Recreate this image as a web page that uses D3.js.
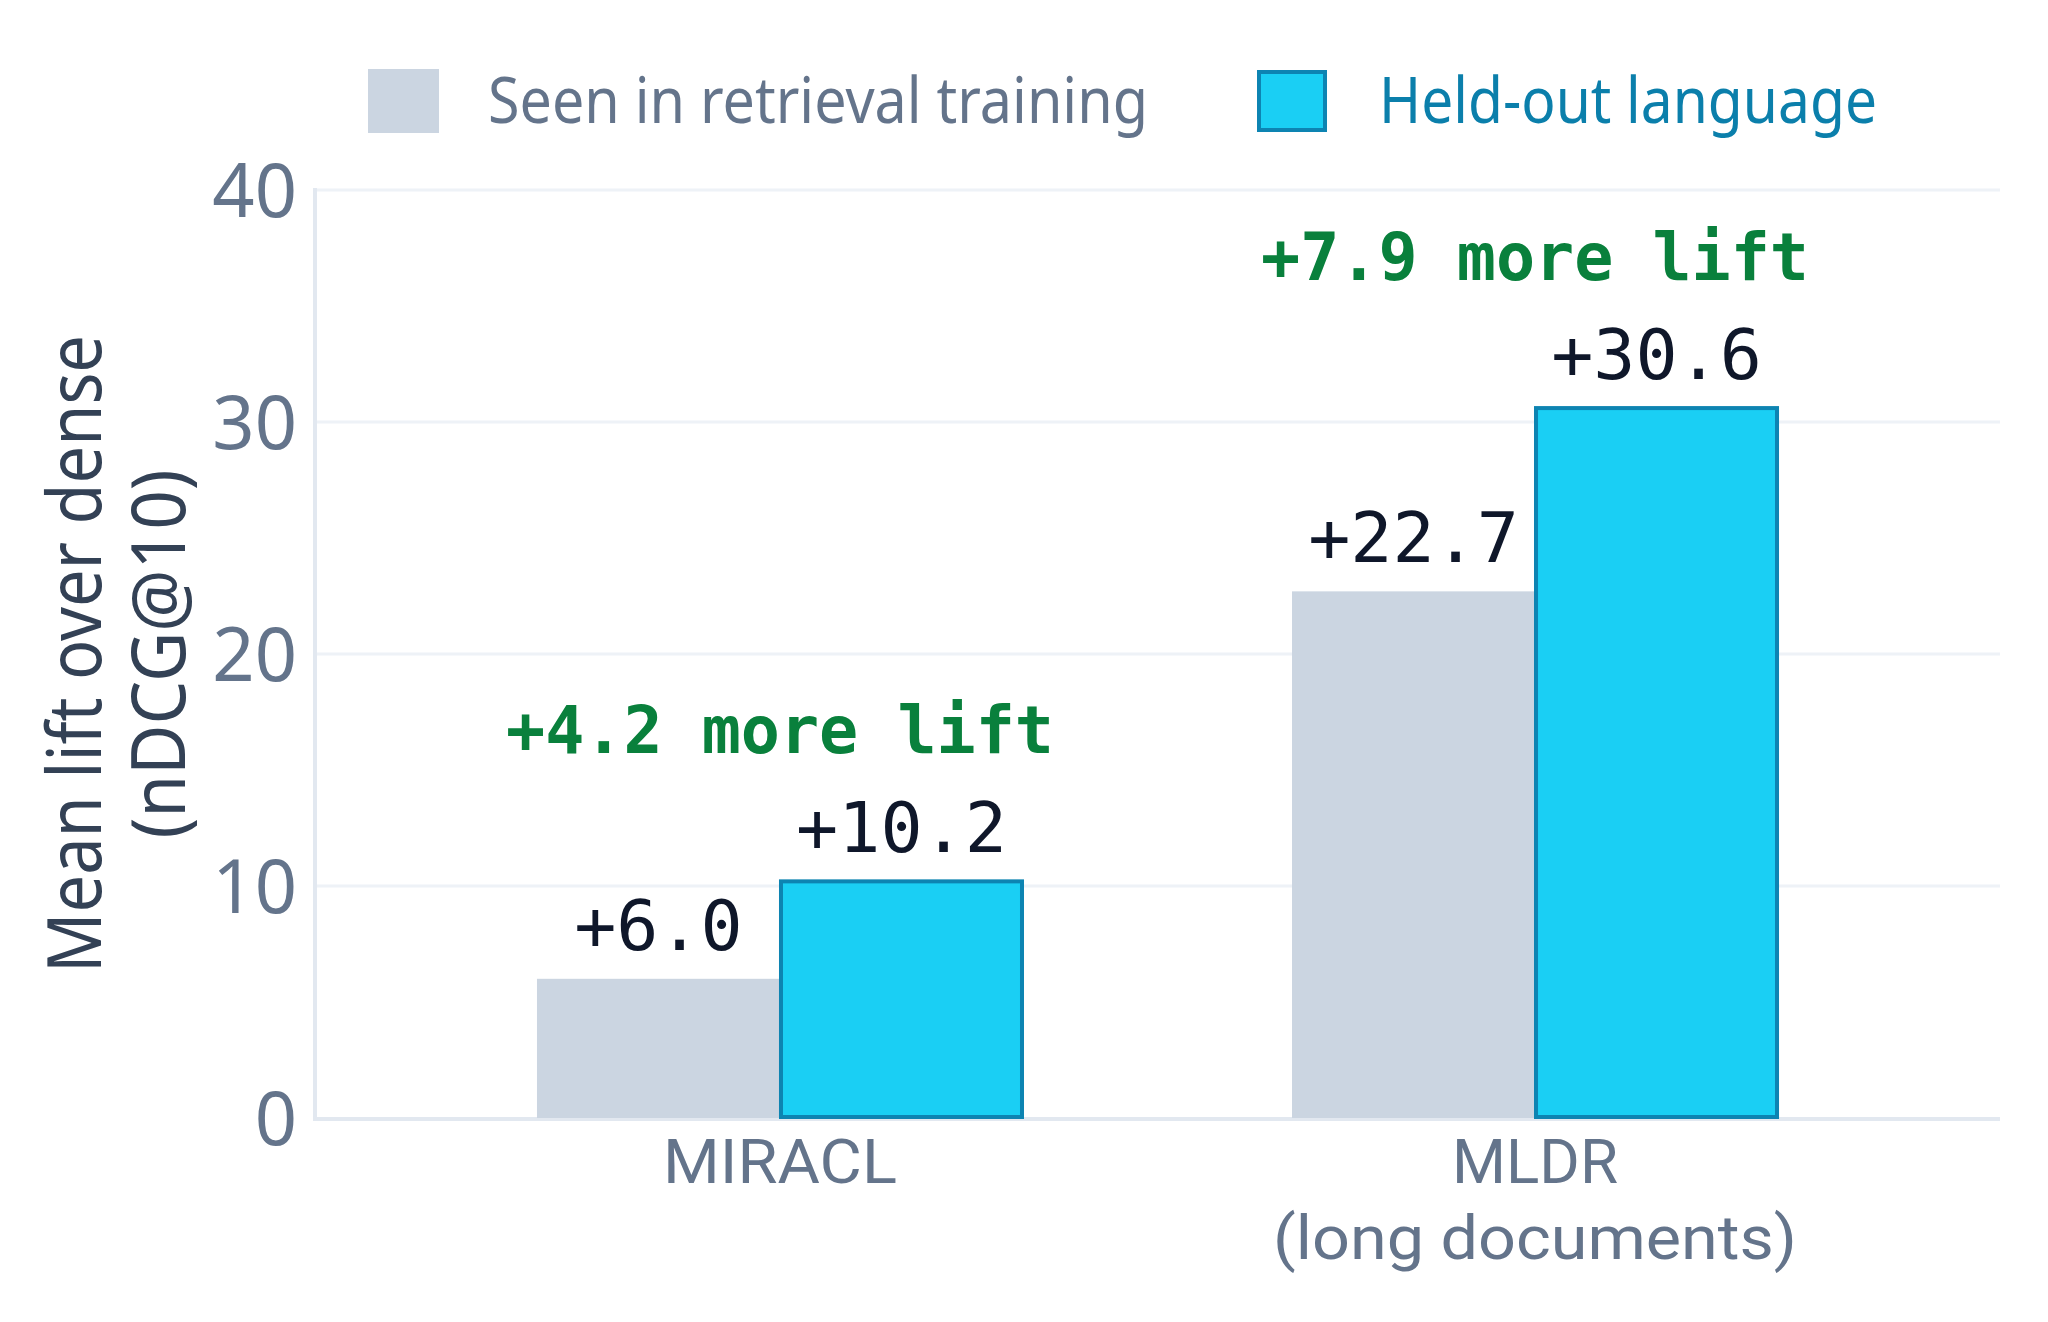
<!DOCTYPE html>
<html>
<head>
<meta charset="utf-8">
<script src="https://cdn.jsdelivr.net/npm/d3@7"></script>
<style>
  html, body { margin: 0; padding: 0; background: #ffffff; }
  svg { display: block; }
</style>
</head>
<body>
<svg id="chart" width="2048" height="1322"></svg>
<script>
// ---- data ----
const categories = ["MIRACL", "MLDR"];
const categoryLines = [["MIRACL"], ["MLDR", "(long documents)"]];
const seriesNames = ["Seen in retrieval training", "Held-out language"];
const seenValues = [6.0, 22.7];
const heldOutValues = [10.2, 30.6];
const liftLabels = ["+4.2 more lift", "+7.9 more lift"];
const yTicks = [0, 10, 20, 30, 40];
const yTitleLines = ["Mean lift over dense", "(nDCG@10)"];

// ---- styles ----
const SANS = "'Noto Sans', 'Open Sans', sans-serif";
const XSANS = "Roboto, 'Noto Sans', sans-serif";
const MONO = "'DejaVu Sans Mono', 'Liberation Mono', monospace";
const colors = {
  seen: "#cbd5e1",
  held: "#1acff4",
  heldStroke: "#0d84b2",
  tick: "#64748b",
  heldText: "#0b7fab",
  title: "#334155",
  value: "#0f172a",
  lift: "#09803c",
  grid: "#eef2f7",
  axis: "#e2e8f0"
};

const svg = d3.select("#chart");
const plotLeft = 315, plotRight = 2000, plotTop = 190, plotBottom = 1118;

const y = d3.scaleLinear().domain([0, 40]).range([plotBottom, plotTop]);
const x0 = d3.scaleBand().domain(categories).range([plotLeft, plotRight])
  .paddingInner(0.3563).paddingOuter(0.294);
const x1 = d3.scaleBand().domain(seriesNames).range([0, x0.bandwidth()]);

// gridlines
svg.append("g").selectAll("line").data(yTicks.filter(t => t > 0)).join("line")
  .attr("x1", plotLeft).attr("x2", plotRight)
  .attr("y1", d => y(d)).attr("y2", d => y(d))
  .attr("stroke", colors.grid).attr("stroke-width", 3);

// axes lines
svg.append("line").attr("x1", plotLeft).attr("x2", plotLeft)
  .attr("y1", plotTop - 2).attr("y2", plotBottom + 3)
  .attr("stroke", colors.axis).attr("stroke-width", 4);
svg.append("line").attr("x1", plotLeft - 2).attr("x2", plotRight)
  .attr("y1", plotBottom + 1).attr("y2", plotBottom + 1)
  .attr("stroke", colors.axis).attr("stroke-width", 4);

// y tick labels
svg.append("g").selectAll("text").data(yTicks).join("text")
  .attr("x", plotLeft - 18).attr("y", d => y(d) + 27)
  .attr("text-anchor", "end")
  .attr("font-family", SANS).attr("font-size", 74)
  .attr("fill", colors.tick)
  .text(d => d);

// y title
const yTitle = svg.append("g").attr("transform", "translate(0,654) rotate(-90)");
const yTitleLens = [638, 369];
yTitle.selectAll("text").data(yTitleLines).join("text")
  .attr("x", 0).attr("y", (d, i) => i === 0 ? 101 : 185)
  .attr("text-anchor", "middle")
  .attr("font-family", SANS).attr("font-size", 74)
  .attr("fill", colors.title)
  .attr("textLength", (d, i) => yTitleLens[i])
  .attr("lengthAdjust", "spacingAndGlyphs")
  .text(d => d);

// bars
const groups = svg.append("g").selectAll("g").data(categories).join("g")
  .attr("transform", d => `translate(${x0(d)},0)`);

groups.append("rect")
  .attr("x", x1(seriesNames[0]))
  .attr("width", x1.bandwidth())
  .attr("y", (d, i) => y(seenValues[i]))
  .attr("height", (d, i) => y(0) - y(seenValues[i]))
  .attr("fill", colors.seen);

groups.append("rect")
  .attr("x", x1(seriesNames[1]) + 1)
  .attr("width", x1.bandwidth() - 2)
  .attr("y", (d, i) => y(heldOutValues[i]))
  .attr("height", (d, i) => y(0) - y(heldOutValues[i]) - 1)
  .attr("fill", colors.held)
  .attr("stroke", colors.heldStroke)
  .attr("stroke-width", 4);

// value labels
groups.append("text")
  .attr("x", x1(seriesNames[0]) + x1.bandwidth() / 2)
  .attr("y", (d, i) => y(seenValues[i]) - 29)
  .attr("text-anchor", "middle")
  .attr("font-family", MONO).attr("font-size", 70)
  .attr("fill", colors.value)
  .text((d, i) => "+" + seenValues[i].toFixed(1));

groups.append("text")
  .attr("x", x1(seriesNames[1]) + x1.bandwidth() / 2)
  .attr("y", (d, i) => y(heldOutValues[i]) - 29)
  .attr("text-anchor", "middle")
  .attr("font-family", MONO).attr("font-size", 70)
  .attr("fill", colors.value)
  .text((d, i) => "+" + heldOutValues[i].toFixed(1));

// lift annotations
groups.append("text")
  .attr("x", x0.bandwidth() / 2)
  .attr("y", (d, i) => y(Math.max(seenValues[i], heldOutValues[i])) - 128)
  .attr("text-anchor", "middle")
  .attr("font-family", MONO).attr("font-size", 65).attr("font-weight", "bold")
  .attr("fill", colors.lift)
  .text((d, i) => liftLabels[i]);

// x labels
const xLabelLens = { "MIRACL": 234, "MLDR": 166, "(long documents)": 524 };
groups.each(function(d, i) {
  d3.select(this).selectAll("text.xl").data(categoryLines[i]).join("text")
    .attr("class", "xl")
    .attr("x", x0.bandwidth() / 2)
    .attr("y", (t, j) => 1183 + j * 76)
    .attr("text-anchor", "middle")
    .attr("font-family", XSANS).attr("font-size", 62)
    .attr("fill", colors.tick)
    .attr("textLength", t => xLabelLens[t])
    .attr("lengthAdjust", "spacingAndGlyphs")
    .text(t => t);
});

// legend
const legend = svg.append("g");
legend.append("rect").attr("x", 368).attr("y", 69).attr("width", 71).attr("height", 64)
  .attr("fill", colors.seen);
legend.append("text").attr("x", 488).attr("y", 123)
  .attr("font-family", SANS).attr("font-size", 64).attr("fill", colors.tick)
  .attr("textLength", 660).attr("lengthAdjust", "spacingAndGlyphs")
  .text(seriesNames[0]);
legend.append("rect").attr("x", 1259).attr("y", 72).attr("width", 66).attr("height", 58)
  .attr("fill", colors.held).attr("stroke", colors.heldStroke).attr("stroke-width", 4);
legend.append("text").attr("x", 1379).attr("y", 123)
  .attr("font-family", SANS).attr("font-size", 64).attr("fill", colors.heldText)
  .attr("textLength", 498).attr("lengthAdjust", "spacingAndGlyphs")
  .text(seriesNames[1]);
</script>
</body>
</html>
